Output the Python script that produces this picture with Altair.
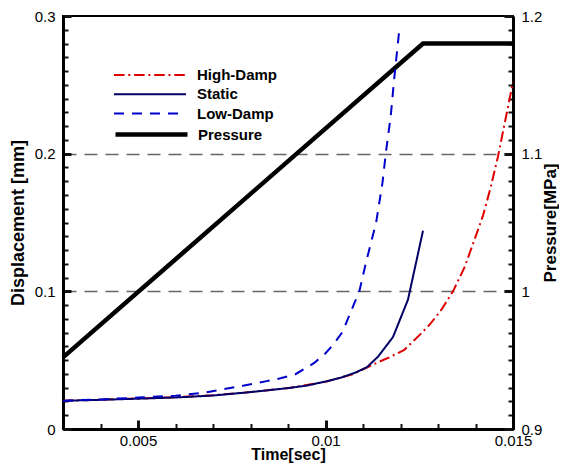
import altair as alt
import pandas as pd

# ---------------- data ----------------
high_t = [0.003, 0.004, 0.005, 0.006, 0.007, 0.008, 0.009, 0.010, 0.0107, 0.0114,
          0.0117, 0.0121, 0.0125, 0.0128, 0.0131, 0.0134, 0.0137, 0.0140, 0.0142,
          0.0144, 0.0146, 0.0148, 0.0150]
high_d = [0.0205, 0.0213, 0.0222, 0.0231, 0.0246, 0.0268, 0.0297, 0.0343, 0.0395, 0.0485,
          0.052, 0.0575, 0.068, 0.0765, 0.087, 0.100, 0.117, 0.1395, 0.155,
          0.175, 0.198, 0.225, 0.252]

static_t = [0.003, 0.004, 0.005, 0.006, 0.007, 0.008, 0.009, 0.0095, 0.010, 0.0104,
            0.0108, 0.0111, 0.0114, 0.0118, 0.0122, 0.0126]
static_d = [0.0205, 0.0212, 0.0220, 0.0229, 0.0243, 0.0268, 0.0297, 0.0315, 0.0345, 0.0372,
            0.0410, 0.0448, 0.0525, 0.0668, 0.0940, 0.1440]

low_t = [0.003, 0.004, 0.005, 0.006, 0.0067, 0.0072, 0.0078, 0.0084, 0.0088, 0.0092,
         0.0097, 0.0100, 0.0102, 0.01046, 0.01077, 0.0109, 0.01108, 0.01135, 0.01152,
         0.01161, 0.01174, 0.01183, 0.01198]
low_d = [0.0205, 0.0215, 0.0228, 0.0242, 0.0261, 0.0285, 0.0314, 0.0346, 0.0368, 0.0398,
         0.048, 0.055, 0.061, 0.0708, 0.0915, 0.0997, 0.121, 0.150, 0.179,
         0.2008, 0.2274, 0.254, 0.293]

press_t = [0.003, 0.0126, 0.015]
press_v = [0.952, 1.18, 1.18]

disp_names = ["High-Damp", "Static", "Low-Damp"]
press_names = ["Pressure"]

x_major = [0.005, 0.01, 0.015]
x_minor = [0.003, 0.004, 0.005, 0.006, 0.007, 0.008, 0.009, 0.010, 0.011, 0.012, 0.013, 0.014, 0.015]
y_major = [0, 0.1, 0.2, 0.3]
y_minor = [round(i * 0.01, 2) for i in range(31)]
p_major = [0.9, 1.0, 1.1, 1.2]
p_minor = [round(0.9 + i * 0.01, 2) for i in range(31)]

x_title = "Time[sec]"
y_title = "Displacement [mm]"
p_title = "Pressure[MPa]"

# ---------------- styles ----------------
disp_colors = ["#DD0000", "#000066", "#0000CC"]
disp_dash = [[10.5, 3.8, 2, 3.8], [1, 0], [10, 8]]
FONT = "Liberation Sans"
TICK = "#111111"
W, H = 450, 413

disp_df = pd.concat([
    pd.DataFrame({"t": high_t, "d": high_d, "series": disp_names[0]}),
    pd.DataFrame({"t": static_t, "d": static_d, "series": disp_names[1]}),
    pd.DataFrame({"t": low_t, "d": low_d, "series": disp_names[2]}),
], ignore_index=True)
press_df = pd.DataFrame({"t": press_t, "v": press_v, "series": press_names[0]})


def legend(y, sw, off):
    return alt.Legend(orient="none", legendX=77, legendY=y, title=None,
                      symbolType="M-4,0H4", symbolSize=324, symbolStrokeWidth=sw,
                      labelFont=FONT, labelFontSize=15, labelFontWeight="bold",
                      labelColor="black", labelOffset=off, padding=0, rowPadding=1.3)


disp_leg = legend(49, 2, 37)
press_leg = legend(107, 4.5, 35)

xscale = alt.Scale(domain=[0.003, 0.015], nice=False, zero=False)
yscale = alt.Scale(domain=[0, 0.3], nice=False, zero=False)
pscale = alt.Scale(domain=[0.9, 1.2], nice=False, zero=False)


def label_axis(orient, values, fmt, title, tick, pad, tpad, tsize=18, **kw):
    # labelled axis; its (major) ticks point inward through a negative length
    return alt.Axis(orient=orient, values=values, format=fmt, title=title,
                    labelFont=FONT, labelFontSize=15, labelColor="black",
                    labelPadding=pad + tick, labelFlush=False, labelOverlap=False,
                    ticks=True, tickSize={"expr": str(-tick)}, tickWidth=3, tickColor=TICK,
                    domainColor="black", domainWidth=3,
                    titleFont=FONT, titleFontSize=tsize, titleFontWeight="bold",
                    titleColor="black", titlePadding=tpad, **kw)


def tick_axis(orient, values, major_test, size):
    # all (minor + major) ticks, inward, majors drawn thicker
    return alt.Axis(orient=orient, values=values, labels=False,
                    domain=False, grid=False, title=None, ticks=True,
                    tickSize={"expr": str(-size)}, tickColor=TICK,
                    tickWidth={"condition": {"test": major_test, "value": 3}, "value": 2})


TEST_01 = "abs(datum.value * 10 - round(datum.value * 10)) < 0.01"
TEST_005 = "abs(datum.value * 200 - round(datum.value * 200)) < 0.01"

y_axis = label_axis("left", y_major, ".1~f", y_title, 8, 8, 7, grid=True,
                    gridColor="#666666", gridDash=[13, 8], gridWidth=1.5,
                    gridOpacity={"condition": {"test": "datum.value > 0.05 && datum.value < 0.25",
                                               "value": 1}, "value": 0})
x_axis = label_axis("bottom", x_major, ".3~f", x_title, 9, 4, -1.5, tsize=16, grid=False)
p_axis = label_axis("right", p_major, ".1~f", p_title, 9, 8, 1, tsize=17, grid=False,
                    titleAngle=270, titleBaseline="top")

# ---- displacement side ----
disp_base = alt.Chart(disp_df).mark_line(opacity=0).encode(
    x=alt.X("t:Q", scale=xscale, axis=None),
    y=alt.Y("d:Q", scale=yscale, axis=None),
    detail="series:N",
)
disp_ticks = alt.Chart(disp_df).mark_line(opacity=0).encode(
    x=alt.X("t:Q", scale=xscale, axis=tick_axis("bottom", x_minor, TEST_005, 5.5)),
    y=alt.Y("d:Q", scale=yscale, axis=tick_axis("left", y_minor, TEST_01, 5)),
    detail="series:N",
)
disp_lines = alt.Chart(disp_df).mark_line(strokeWidth=2).encode(
    x=alt.X("t:Q", scale=xscale, axis=x_axis),
    y=alt.Y("d:Q", scale=yscale, axis=y_axis),
    color=alt.Color("series:N", scale=alt.Scale(domain=disp_names, range=disp_colors), legend=disp_leg),
    strokeDash=alt.StrokeDash("series:N", scale=alt.Scale(domain=disp_names, range=disp_dash), legend=disp_leg),
)

# ---- pressure side ----
press_base = alt.Chart(press_df).mark_line(opacity=0).encode(
    x=alt.X("t:Q", scale=xscale, axis=None),
    y=alt.Y("v:Q", scale=pscale, axis=None),
)
press_ticks = alt.Chart(press_df).mark_line(opacity=0).encode(
    x=alt.X("t:Q", scale=xscale, axis=None),
    y=alt.Y("v:Q", scale=pscale, axis=tick_axis("right", p_minor, TEST_01, 5)),
)
press_line = alt.Chart(press_df).mark_line(strokeWidth=4.5).encode(
    x=alt.X("t:Q", scale=xscale, axis=None),
    y=alt.Y("v:Q", scale=pscale, axis=p_axis),
    color=alt.Color("series:N", scale=alt.Scale(domain=press_names, range=["#000000"]), legend=press_leg),
)

left = alt.layer(disp_base, disp_ticks, disp_lines).resolve_axis(x="independent", y="independent")
right = alt.layer(press_base, press_ticks, press_line).resolve_axis(x="independent", y="independent")

chart = alt.layer(right, left).resolve_scale(
    y="independent", color="independent"
).resolve_axis(
    x="independent", y="independent"
).resolve_legend(color="independent", strokeDash="independent").properties(
    width=W, height=H,
    padding={"left": 55, "top": 8, "right": 46, "bottom": 35},
    autosize=alt.AutoSizeParams(type="none"),
).configure_view(stroke="black", strokeWidth=2)

chart.save("out.html", embed_options={"renderer": "svg", "actions": False})
